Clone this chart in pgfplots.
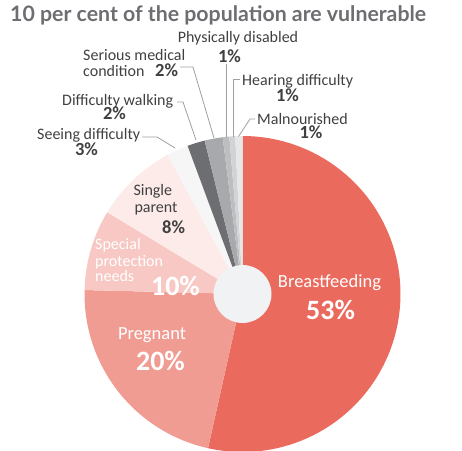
\documentclass[border=0pt]{standalone}
\usepackage{pgfplots}
\pgfplotsset{compat=1.18}
\usepackage{fontspec}
\setmainfont{Carlito}
\newfontfamily\titlefont{Lato}
\definecolor{cB}{HTML}{EB6A5E}
\definecolor{cP}{HTML}{F19C93}
\definecolor{cS}{HTML}{F7C8C4}
\definecolor{cSp}{HTML}{FDEBEA}
\definecolor{cSee}{HTML}{F6F6F6}
\definecolor{cW}{HTML}{6D6E71}
\definecolor{cSer}{HTML}{A7A9AC}
\definecolor{cPh}{HTML}{BCBEC0}
\definecolor{cH}{HTML}{D1D3D4}
\definecolor{cM}{HTML}{E6E7E8}
\definecolor{hole}{HTML}{F1F2F4}
\definecolor{txt}{HTML}{404041}
\definecolor{ttl}{HTML}{6D6E71}
\definecolor{lead}{HTML}{9D9FA2}
\newcommand\fs[1]{\fontsize{#1}{#1}\selectfont}
% share of each slice (per cent), clockwise from the top
\newcommand\slice[2]{%
  \pgfmathsetmacro\endang{\curang-3.6*#1}%
  \edef\doslice{\noexpand\addplot[draw=none, fill=#2, domain=\endang:\curang, samples=120, variable=\noexpand\t] ({242.5+158*cos(\noexpand\t)}, {156+158*sin(\noexpand\t)}) -- (axis cs:242.5,156) -- cycle;}%
  \doslice
  \global\let\curang\endang}
\begin{document}
\begin{tikzpicture}
\gdef\curang{90}
\begin{axis}[scale only axis, width=462pt, height=450pt,
  xmin=0, xmax=462, ymin=0, ymax=450, axis lines=none, clip=true]
\slice{53.5}{cB}   % Breastfeeding
\slice{21.9}{cP}   % Pregnant
\slice{8.25}{cS}   % Special protection needs
\slice{8.5}{cSp}   % Single parent
\slice{2.2}{cSee}  % Seeing difficulty
\slice{1.8}{cW}    % Difficulty walking
\slice{1.85}{cSer} % Serious medical condition
\slice{0.67}{cPh}  % Physically disabled
\slice{0.6}{cH}    % Hearing difficulty
\slice{0.73}{cM}   % Malnourished
\fill[hole] (axis cs:242.5,156) circle[radius=29];
% leader lines
\begin{scope}[lead, line width=0.8pt]
\draw (axis cs:142,313) -- (axis cs:157,313) -- (axis cs:175,302);
\draw (axis cs:177,348) -- (axis cs:183,348) -- (axis cs:196,310);
\draw (axis cs:180,383) -- (axis cs:193,383) -- (axis cs:214,312);
\draw (axis cs:226,386) -- (axis cs:226,313);
\draw (axis cs:240,371) -- (axis cs:233.5,371) -- (axis cs:233.5,313);
\draw (axis cs:255,331) -- (axis cs:250,331) -- (axis cs:238.5,313.5);
\end{scope}
% title
\node[anchor=base west, inner sep=0, text=ttl] at (axis cs:10,428.3) {\titlefont\bfseries\fs{21.3}10 per cent of the population are vulnerable};
% outside labels
\begin{scope}[every node/.style={inner sep=0, text=txt}]
\node[anchor=base] at (axis cs:238,407.7) {\fs{16}Physically disabled};
\node[anchor=base] at (axis cs:229.5,387.3) {\fs{18.5}\bfseries 1\%};
\node[anchor=base west] at (axis cs:83,389) {\fs{16}Serious medical};
\node[anchor=base west] at (axis cs:83,373.3) {\fs{16}condition};
\node[anchor=base west] at (axis cs:155,373.3) {\fs{18.5}\bfseries 2\%};
\node[anchor=base west] at (axis cs:242,364) {\fs{16}Hearing difficulty};
\node[anchor=base] at (axis cs:287.5,348.3) {\fs{18.5}\bfseries 1\%};
\node[anchor=base west] at (axis cs:62,344) {\fs{16}Difficulty walking};
\node[anchor=base] at (axis cs:114.5,330) {\fs{18.5}\bfseries 2\%};
\node[anchor=base west] at (axis cs:257,325.7) {\fs{16}Malnourished};
\node[anchor=base] at (axis cs:311,311.7) {\fs{18.5}\bfseries 1\%};
\node[anchor=base west] at (axis cs:37,310) {\fs{16}Seeing difficulty};
\node[anchor=base] at (axis cs:86.5,294.3) {\fs{18.5}\bfseries 3\%};
% inside labels
\node[anchor=base west] at (axis cs:133.3,254.3) {\fs{16}Single};
\node[anchor=base west] at (axis cs:134.3,237.3) {\fs{16}parent};
\node[anchor=base west] at (axis cs:162,216.7) {\fs{18.5}\bfseries 8\%};
\end{scope}
\begin{scope}[every node/.style={inner sep=0, text=white}]
\node[anchor=base west] at (axis cs:95,201) {\fs{16}Special};
\node[anchor=base west] at (axis cs:95,184) {\fs{16}protection};
\node[anchor=base west] at (axis cs:95,169) {\fs{16}needs};
\node[anchor=base] at (axis cs:175.5,154.3) {\fs{28}\bfseries 10\%};
\node[anchor=base] at (axis cs:329.5,162.7) {\fs{18.5}Breastfeeding};
\node[anchor=base] at (axis cs:330.5,131) {\fs{28}\bfseries 53\%};
\node[anchor=base] at (axis cs:152,110.7) {\fs{18.5}Pregnant};
\node[anchor=base] at (axis cs:160.5,80) {\fs{28}\bfseries 20\%};
\end{scope}
\end{axis}
\pgfresetboundingbox
\useasboundingbox (0,0) rectangle (462pt,450pt);
\end{tikzpicture}
\end{document}
